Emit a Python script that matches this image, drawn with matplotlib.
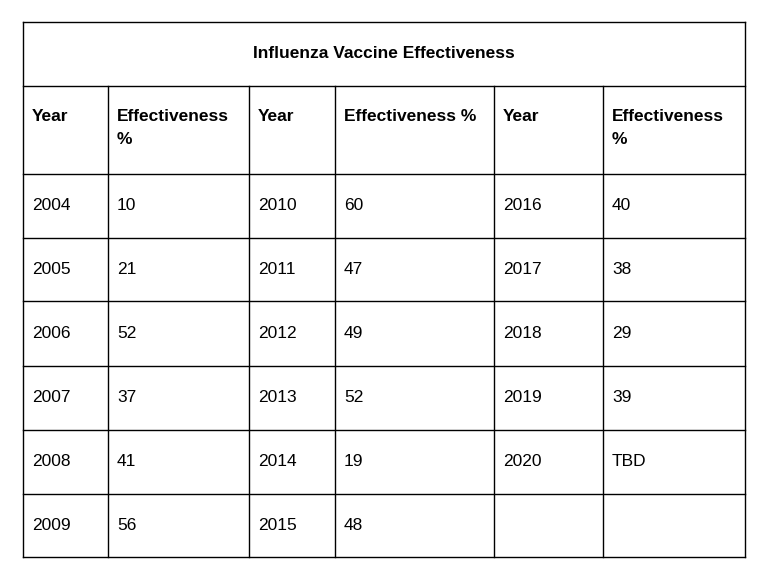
import matplotlib.pyplot as plt

title = "Influenza Vaccine Effectiveness"
headers = ["Year", "Effectiveness\n%", "Year", "Effectiveness %", "Year", "Effectiveness\n%"]
years_a = ["2004", "2005", "2006", "2007", "2008", "2009"]
eff_a = ["10", "21", "52", "37", "41", "56"]
years_b = ["2010", "2011", "2012", "2013", "2014", "2015"]
eff_b = ["60", "47", "49", "52", "19", "48"]
years_c = ["2016", "2017", "2018", "2019", "2020", ""]
eff_c = ["40", "38", "29", "39", "TBD", ""]

# grid geometry in pixels
col_x = [23, 108, 249, 335, 494, 603, 745]
row_y = [22, 86, 174, 238, 301, 366, 430, 494, 557]

plt.rcParams["font.family"] = "Liberation Sans"
fig = plt.figure(figsize=(7.68, 5.80), dpi=100)
ax = fig.add_axes([0, 0, 1, 1])
ax.set_xlim(0, 768)
ax.set_ylim(580, 0)
ax.axis("off")

lw = 1.0
# outer box and horizontal lines
for y in row_y:
    ax.plot([col_x[0], col_x[-1]], [y, y], color="black", lw=lw)
ax.plot([col_x[0], col_x[0]], [row_y[0], row_y[-1]], color="black", lw=lw)
ax.plot([col_x[-1], col_x[-1]], [row_y[0], row_y[-1]], color="black", lw=lw)
for x in col_x[1:-1]:
    ax.plot([x, x], [row_y[1], row_y[-1]], color="black", lw=lw)

ax.text((col_x[0] + col_x[-1]) / 2, (row_y[0] + row_y[1]) / 2, title,
        ha="center", va="center", fontsize=12.5, fontweight="bold")

for i, h in enumerate(headers):
    ax.text(col_x[i] + 9, row_y[1] + 23, h, ha="left", va="top",
            fontsize=12.5, fontweight="bold", linespacing=1.7)

columns = [years_a, eff_a, years_b, eff_b, years_c, eff_c]
for i, col in enumerate(columns):
    for r, val in enumerate(col):
        yc = (row_y[r + 2] + row_y[r + 3]) / 2
        ax.text(col_x[i] + 9, yc, val, ha="left", va="center", fontsize=12.5)

fig.savefig("out.png", dpi=100, facecolor="white")
